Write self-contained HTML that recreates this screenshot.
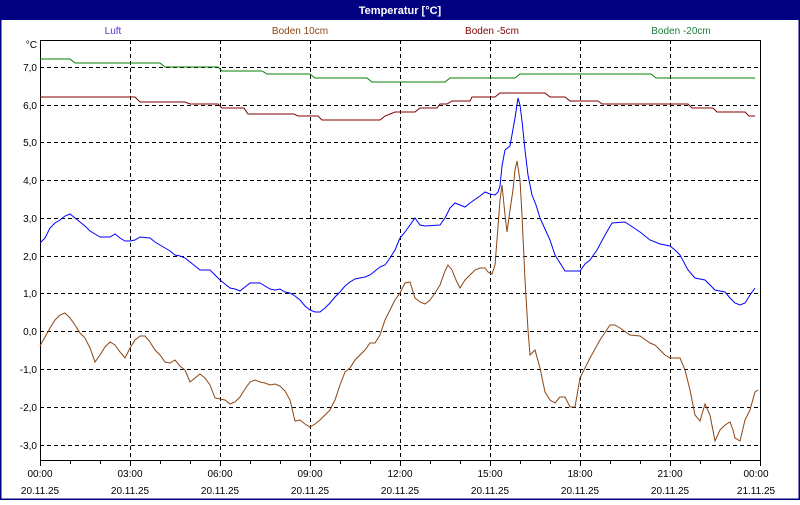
<!DOCTYPE html>
<html><head><meta charset="utf-8"><style>
body{margin:0;width:800px;height:500px;overflow:hidden;background:#fff;font-family:"Liberation Sans",sans-serif}
</style></head><body>
<svg width="800" height="500" xmlns="http://www.w3.org/2000/svg" font-family="Liberation Sans, sans-serif" font-size="10">
<rect x="0" y="0" width="800" height="500" fill="#fff"/>
<rect x="0" y="0" width="800" height="20" fill="#000080"/>
<rect x="0.5" y="0.5" width="799" height="499" fill="none" stroke="#000080" stroke-width="2"/>
<text x="400" y="14" fill="#fff" font-weight="bold" text-anchor="middle" font-size="11">Temperatur [°C]</text>
<g text-anchor="middle">
<text x="113" y="34" fill="#6030d0">Luft</text>
<text x="300" y="34" fill="#8b4513">Boden 10cm</text>
<text x="492" y="34" fill="#800000">Boden -5cm</text>
<text x="681" y="34" fill="#1e8040">Boden -20cm</text>
</g>
<g stroke="#000" stroke-dasharray="4,3" stroke-width="1">
<line x1="40" x2="760" y1="67.5" y2="67.5"/><line x1="40" x2="760" y1="105.5" y2="105.5"/>
<line x1="40" x2="760" y1="142.5" y2="142.5"/><line x1="40" x2="760" y1="180.5" y2="180.5"/>
<line x1="40" x2="760" y1="218.5" y2="218.5"/><line x1="40" x2="760" y1="256.5" y2="256.5"/>
<line x1="40" x2="760" y1="293.5" y2="293.5"/><line x1="40" x2="760" y1="331.5" y2="331.5"/>
<line x1="40" x2="760" y1="369.5" y2="369.5"/><line x1="40" x2="760" y1="407.5" y2="407.5"/>
<line x1="40" x2="760" y1="445.5" y2="445.5"/>
<line y1="40" y2="460" x1="130.5" x2="130.5"/><line y1="40" y2="460" x1="220.5" x2="220.5"/>
<line y1="40" y2="460" x1="310.5" x2="310.5"/><line y1="40" y2="460" x1="400.5" x2="400.5"/>
<line y1="40" y2="460" x1="490.5" x2="490.5"/><line y1="40" y2="460" x1="580.5" x2="580.5"/>
<line y1="40" y2="460" x1="670.5" x2="670.5"/>
</g>
<rect x="40.5" y="40.5" width="720" height="420" fill="none" stroke="#000"/>
<g stroke="#000">
<path d="M40.5 461v5M70.5 461v3M100.5 461v3M130.5 461v5M160.5 461v3M190.5 461v3M220.5 461v5M250.5 461v3M280.5 461v3M310.5 461v5M340.5 461v3M370.5 461v3M400.5 461v5M430.5 461v3M460.5 461v3M490.5 461v5M520.5 461v3M550.5 461v3M580.5 461v5M610.5 461v3M640.5 461v3M670.5 461v5M700.5 461v3M730.5 461v3M760.5 461v5"/>
</g>
<g text-anchor="end" fill="#000">
<text x="37" y="48">°C</text>
<text x="37" y="71">7,0</text><text x="37" y="109">6,0</text><text x="37" y="146">5,0</text>
<text x="37" y="184">4,0</text><text x="37" y="222">3,0</text><text x="37" y="260">2,0</text>
<text x="37" y="297">1,0</text><text x="37" y="335">0,0</text><text x="37" y="373">-1,0</text>
<text x="37" y="411">-2,0</text><text x="37" y="449">-3,0</text>
</g>
<g text-anchor="middle" fill="#000">
<text x="40" y="477">00:00</text><text x="40" y="494">20.11.25</text>
<text x="130" y="477">03:00</text><text x="130" y="494">20.11.25</text>
<text x="220" y="477">06:00</text><text x="220" y="494">20.11.25</text>
<text x="310" y="477">09:00</text><text x="310" y="494">20.11.25</text>
<text x="400" y="477">12:00</text><text x="400" y="494">20.11.25</text>
<text x="490" y="477">15:00</text><text x="490" y="494">20.11.25</text>
<text x="580" y="477">18:00</text><text x="580" y="494">20.11.25</text>
<text x="670" y="477">21:00</text><text x="670" y="494">20.11.25</text>
<text x="756" y="477">00:00</text><text x="756" y="494">21.11.25</text>
</g>
<g fill="none" stroke-width="1">
<polyline stroke="#008000" points="40,59 70,59 75,63 160,63 165,67 218,67 222,71 262,71 267,74 310,74 315,78 367,78 372,82 445,82 450,78 515,78 520,74 651,74 656,78 755,78"/>
<polyline stroke="#800000" points="40,97 135,97 140,102 185,102 190,104 218,104 222,108 244,108 248,114 294,114 298,116 318,116 322,120 380,120 385,116 395,112 415,112 420,108 437,108 440,104 447,104 452,101 470,101 472,97 495,97 500,93 545,93 550,97 565,97 570,101 598,101 602,104 688,104 692,108 713,108 717,112 745,112 749,116 755,116"/>
<polyline stroke="#0000ff" points="40,243 45,238 50,228 55,223 60,220 65,216 70,214 75,218 80,222 85,226 90,231 95,234 100,237 110,237 115,234 120,238 125,241 130,241 135,240 140,237 150,238 155,242 160,245 165,248 170,251 175,255 180,256 185,258 190,262 195,266 200,270 210,270 215,275 220,280 225,284 230,288 235,289 240,291 245,287 250,283 260,283 265,286 270,289 275,290 280,289 285,292 290,293 295,296 300,300 305,306 310,310 315,312 320,312 325,308 330,303 335,297 340,292 345,286 350,282 355,279 360,278 365,277 370,275 375,271 380,267 385,265 390,258 395,250 400,238 405,232 410,225 415,218 420,225 425,226 440,225 445,218 450,208 455,203 460,205 465,207 470,203 480,196 485,192 490,194 495,195 498,192 500,186 502,166 505,150 510,146 515,118 518,98 520,105 522,121 525,150 528,175 532,195 536,205 540,218 545,229 550,240 555,255 560,263 565,271 580,271 585,264 590,260 597,250 605,235 612,223 625,222 640,232 650,240 660,244 670,246 675,250 680,255 688,270 695,278 705,280 715,290 720,291 725,292 730,298 735,303 740,305 745,303 750,295 755,288"/>
<polyline stroke="#8b4513" points="40,346 45,337 50,328 55,320 60,315 65,313 70,318 75,325 80,333 85,338 90,348 95,362 100,355 105,347 110,342 115,345 120,352 125,358 130,348 135,340 140,336 145,336 150,342 155,350 160,355 165,362 170,363 175,360 180,366 185,370 190,382 195,378 200,374 205,378 210,385 215,398 220,399 225,400 230,404 235,402 240,397 245,389 250,382 255,380 260,382 265,383 270,385 275,384 280,386 285,391 290,400 295,421 300,420 305,424 310,427 315,424 320,420 325,415 330,410 335,400 340,385 345,372 350,368 355,360 360,355 365,350 370,343 375,343 380,335 385,320 390,310 395,300 400,293 405,283 410,282 415,298 420,302 425,304 430,300 435,293 440,285 445,271 448,265 452,270 456,280 460,288 465,280 470,275 475,270 480,268 485,268 488,272 492,274 495,265 497,240 500,200 502,185 505,215 507,232 510,210 513,190 515,170 517,161 520,180 522,215 525,280 528,330 530,355 535,350 540,368 545,392 550,400 555,403 560,397 565,397 570,407 575,407 580,378 590,358 600,340 610,325 615,325 620,328 630,335 640,336 650,343 655,345 660,350 665,355 670,358 680,358 685,370 690,390 695,415 700,421 705,404 710,415 715,441 720,430 725,425 730,422 733,430 735,438 740,441 745,420 750,410 755,392 758,390"/>
</g>
</svg>
</body></html>
